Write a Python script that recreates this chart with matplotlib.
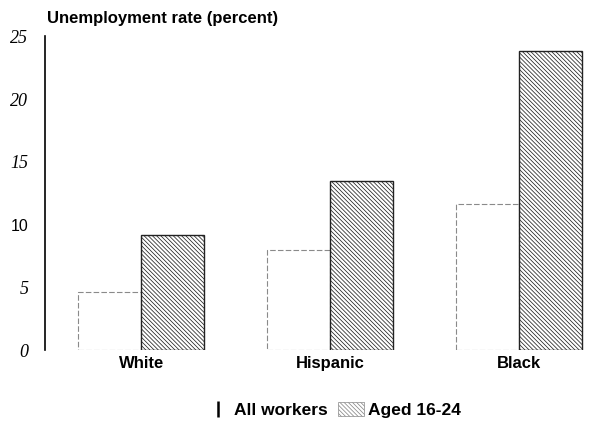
import matplotlib
matplotlib.use("Agg")
import matplotlib.pyplot as plt
from matplotlib.patches import Patch
from matplotlib.lines import Line2D
import numpy as np

categories = ["White", "Hispanic", "Black"]
all_workers = [4.6, 8.0, 11.6]
aged_16_24 = [9.2, 13.5, 23.8]
yticks = [0, 5, 10, 15, 20, 25]
series_labels = ["All workers", "Aged 16-24"]

plt.rcParams['hatch.linewidth'] = 0.55
plt.rcParams['hatch.color'] = '#404040'

fig = plt.figure(figsize=(6.16, 4.26), dpi=100)
ax = fig.add_axes([0.073, 0.178, 0.907, 0.737])

HATCH = '\\' * 8

x = np.arange(len(categories))
w = 0.335
ax.bar(x - w / 2, all_workers, width=w, facecolor='white', edgecolor='#8a8a8a',
       linewidth=0.8, linestyle=(0, (5, 2)))
ax.bar(x + w / 2, aged_16_24, width=w, facecolor='white', edgecolor='#222222',
       linewidth=1.0, hatch=HATCH)

ax.set_xlim(-0.51, 2.45)
ax.set_ylim(0, 25)
for s in ['top', 'right', 'bottom']:
    ax.spines[s].set_visible(False)
ax.spines['left'].set_linewidth(1.2)

ax.set_yticks(yticks)
ax.set_yticklabels([str(v) for v in yticks], fontfamily='Liberation Serif',
                   fontstyle='italic', fontsize=13)
for lbl in ax.get_yticklabels():
    if lbl.get_text() == '10':
        lbl.set_fontfamily('Liberation Sans')
        lbl.set_fontstyle('normal')
        lbl.set_fontsize(11.5)
ax.tick_params(axis='y', length=0, pad=12)

ax.set_xticks(x)
ax.set_xticklabels(categories, fontfamily='Liberation Sans', fontweight='bold',
                   fontsize=12)
ax.tick_params(axis='x', length=0, pad=4)

fig.text(0.076, 0.957, "Unemployment rate (percent)", fontfamily='Liberation Sans',
         fontweight='bold', fontsize=12.0, ha='left', va='center')

handles = [Line2D([0], [0], marker='|', color='black', linestyle='None',
                  markersize=12, markeredgewidth=1.8),
           Patch(facecolor='white', edgecolor='#888888', linewidth=0.5,
                 hatch=HATCH)]
leg = fig.legend(handles, series_labels, loc='center', bbox_to_anchor=(0.54, 0.037),
                 ncol=2, frameon=False, handlelength=1.5, handleheight=0.8,
                 handletextpad=0.2, columnspacing=0.6,
                 prop={'family': 'Liberation Sans', 'weight': 'bold', 'size': 12.5})

fig.savefig("out.png", dpi=100)
